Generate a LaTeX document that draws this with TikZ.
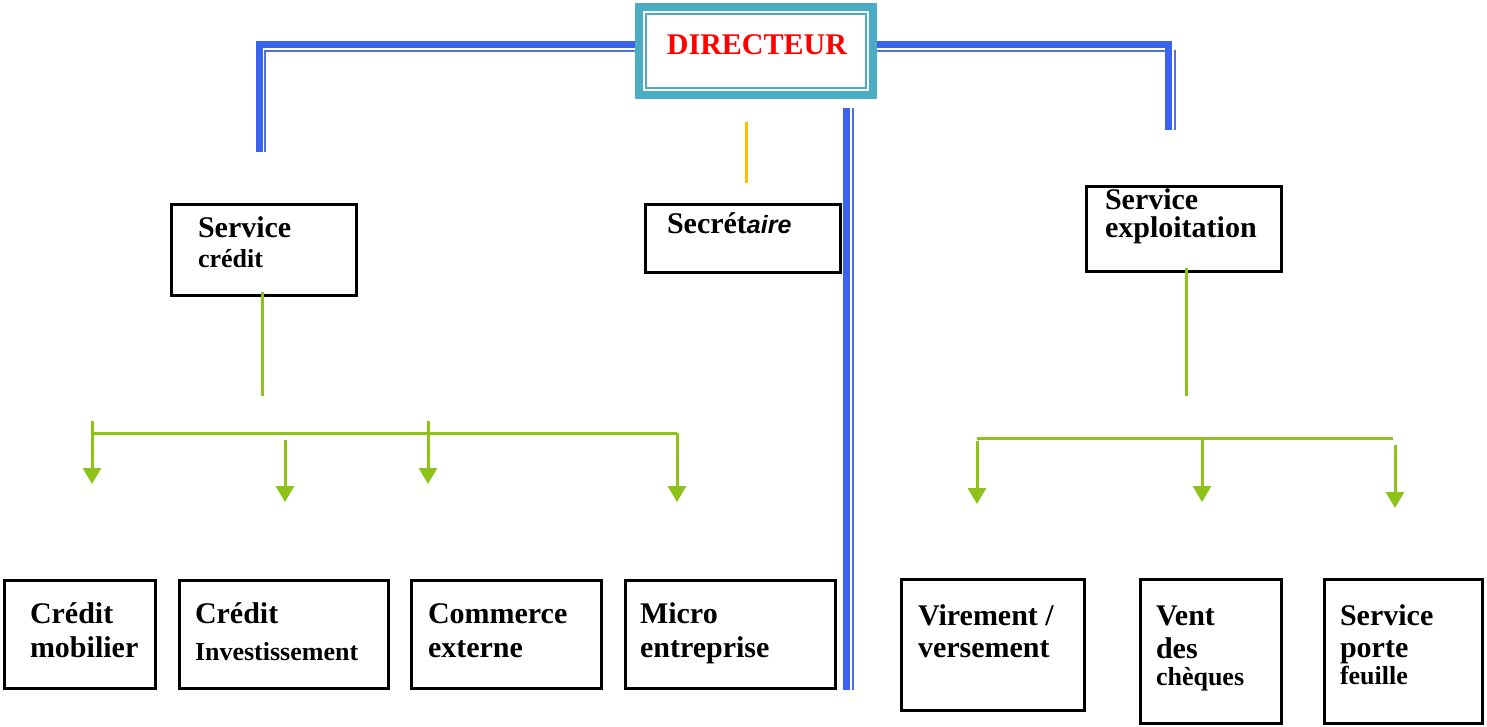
\documentclass[tikz,border=0pt]{standalone}
\usepackage{fontspec}
\setmainfont{Liberation Serif}
\setsansfont{Liberation Sans}
\usetikzlibrary{arrows.meta}
\definecolor{bthickc}{RGB}{58,100,238}
\definecolor{bthinc}{RGB}{80,115,215}
\definecolor{tealc}{RGB}{75,172,198}
\definecolor{grc}{RGB}{141,194,24}
\definecolor{goldc}{RGB}{255,192,0}
\newcommand\lineat[2]{\baselineskip=#1pt\hbox{#2}}
\newcommand\smallf{\fontsize{26}{30}\selectfont}
\tikzset{
  box/.style={draw=black, line width=3pt, fill=white, inner sep=0pt, outer sep=0pt},
  txt/.style={anchor=base west, inner sep=0pt, outer sep=0pt, font=\fontsize{30}{34}\selectfont\bfseries},
  bthick/.style={draw=bthickc, line width=7pt},
  bthin/.style={draw=bthinc, line width=2pt},
  gline/.style={draw=grc, line width=3pt},
  garrow/.style={draw=grc, line width=3pt, -{Triangle[width=18pt,length=16pt]}, fill=grc},
  dirbox/.style={draw=tealc, line width=8pt, fill=white, minimum width=234pt, minimum height=88pt, inner sep=0pt, outer sep=0pt},
}
\begin{document}
\begin{tikzpicture}[x=1pt,y=-1pt]
\useasboundingbox (0,0) rectangle (1487,727);
% director box (anchor reference)
\node[dirbox] (dir) at (756,51) {};
% coordinates for free ends
\coordinate (lc1) at (259,152);
\coordinate (lc2) at (265,152);
\coordinate (rc1) at (1168.5,130);
\coordinate (rc2a) at (1165,51);
\coordinate (rc2b) at (1174.5,50);
\coordinate (rc2c) at (1174.5,130);
\coordinate (m1) at (846.5,108);
\coordinate (m2) at (846.5,690);
\coordinate (m3) at (853,108);
\coordinate (m4) at (853,690);
% blue connectors
\draw[bthick] ([yshift=6pt]dir.west) -| (lc1);
\draw[bthin] ([xshift=-4pt]dir.west) -| (lc2);
\draw[bthick] ([yshift=6pt]dir.east) -| (rc1);
\draw[bthin] ([xshift=4pt]dir.east) -- (rc2a);
\draw[bthin] (rc2b) -- (rc2c);
\draw[bthick] (m1) -- (m2);
\draw[bthin] (m3) -- (m4);
% director drawn on top
\node[dirbox] (dirtop) at (756,51) {};
\node[draw=tealc, line width=2pt, minimum width=220pt, minimum height=74pt, inner sep=0pt, outer sep=0pt] (dirin) at (756,51) {};
\node[anchor=base, inner sep=0pt, text=red, font=\fontsize{30}{34}\selectfont\bfseries] (dirt) at (757,55) {DIRECTEUR};
% yellow
\coordinate (y1) at (746,122);
\coordinate (y2) at (746,183);
\draw[draw=goldc, line width=3pt] (y1) -- (y2);
% boxes
\node[box, minimum width=185pt, minimum height=91pt] (sc) at (264,250) {};
\node[box, minimum width=195pt, minimum height=68pt] (sec) at (743,238.5) {};
\node[box, minimum width=195pt, minimum height=85pt] (se) at (1184,229) {};
\node[box, minimum width=151pt, minimum height=108pt] (cm) at (80,634.5) {};
\node[box, minimum width=209pt, minimum height=108pt] (ci) at (284,634.5) {};
\node[box, minimum width=190pt, minimum height=108pt] (ce) at (506.5,634.5) {};
\node[box, minimum width=210pt, minimum height=108pt] (me) at (730.5,634.5) {};
\node[box, minimum width=183pt, minimum height=131pt] (vv) at (993,645) {};
\node[box, minimum width=141pt, minimum height=144pt] (vd) at (1211,651.5) {};
\node[box, minimum width=158pt, minimum height=144pt] (sp) at (1403.5,651.5) {};
% texts
\node[txt] (tsc) at (198,238) {\vtop{\hbox{Service}\lineat{29}{\smallf crédit}}};
\node[txt] (tsec) at (667,234) {Secrét{\sffamily\itshape\fontsize{25}{30}\selectfont aire}};
\node[txt] (tse) at (1105,210) {\vtop{\hbox{Service}\lineat{28}{exploitation}}};
\node[txt] (tcm) at (30,623) {\vtop{\hbox{Crédit}\lineat{34}{mobilier}}};
\node[txt] (tci) at (195,623) {\vtop{\hbox{Crédit}\lineat{37}{\smallf Investissement}}};
\node[txt] (tce) at (428,623) {\vtop{\hbox{Commerce}\lineat{34}{externe}}};
\node[txt] (tme) at (640,623) {\vtop{\hbox{Micro}\lineat{34}{entreprise}}};
\node[txt] (tvv) at (918,625) {\vtop{\hbox{Virement /}\lineat{32}{versement}}};
\node[txt] (tvd) at (1156,625) {\vtop{\hbox{Vent}\lineat{33}{des}\lineat{27}{\smallf chèques}}};
\node[txt] (tsp) at (1340,625) {\vtop{\hbox{Service}\lineat{32}{porte}\lineat{27}{\smallf feuille}}};
% green connectors left
\coordinate (lt) at (262,396);
\coordinate (lh1) at (92,433);
\coordinate (lh2) at (677,433);
\coordinate (a1s) at (92,421);  \coordinate (a1e) at (92,484);
\coordinate (a2s) at (285,440); \coordinate (a2e) at (285,502);
\coordinate (a3s) at (428,421); \coordinate (a3e) at (428,484);
\coordinate (a4s) at (677,433); \coordinate (a4e) at (677,502);
\draw[gline] ([xshift=-2pt,yshift=4pt]sc.south) -- (lt);
\draw[gline] (lh1) -- (lh2);
\draw[garrow] (a1s) -- (a1e);
\draw[garrow] (a2s) -- (a2e);
\draw[garrow] (a3s) -- (a3e);
\draw[garrow] (a4s) -- (a4e);
% green connectors right
\coordinate (rt) at (1186,396);
\coordinate (rh1) at (977,438);
\coordinate (rh2) at (1393,438);
\coordinate (b1s) at (977,441);  \coordinate (b1e) at (977,504);
\coordinate (b2s) at (1202,438); \coordinate (b2e) at (1202,502);
\coordinate (b3s) at (1395,445); \coordinate (b3e) at (1395,508);
\draw[gline] ([xshift=2pt,yshift=4pt]se.south) -- (rt);
\draw[gline] (rh1) -- (rh2);
\draw[garrow] (b1s) -- (b1e);
\draw[garrow] (b2s) -- (b2e);
\draw[garrow] (b3s) -- (b3e);
\end{tikzpicture}
\end{document}
